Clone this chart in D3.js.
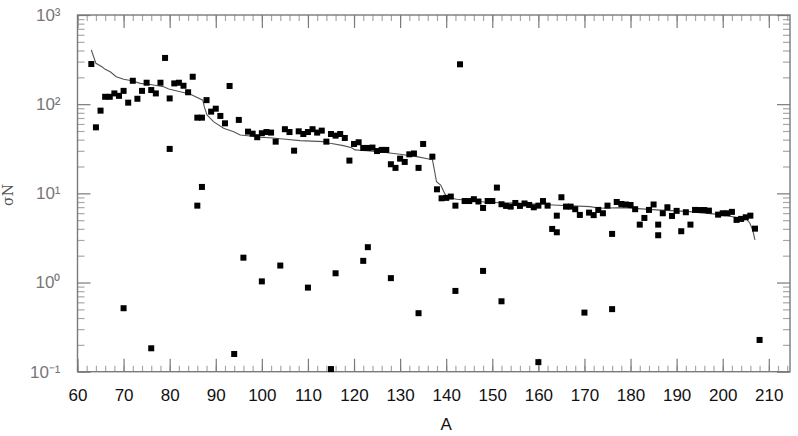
<!DOCTYPE html>
<html><head><meta charset="utf-8">
<script src="https://cdn.jsdelivr.net/npm/d3@7"></script>
<style>
html,body{margin:0;padding:0;background:#fff;}
svg{display:block;}
</style></head>
<body>
<svg id="chart" width="798" height="436"></svg>
<script>
// Measured points: mass number A and sigma*N
const massA = [63,64,65,66,67,68,69,70,70,71,72,73,74,75,76,76,77,78,79,80,80,81,82,83,84,85,86,86,87,87,88,89,90,91,92,93,94,95,96,97,98,99,100,100,101,102,103,104,105,106,107,108,109,110,110,111,112,113,114,115,115,116,116,117,118,119,120,121,122,122,123,123,124,125,126,127,128,128,129,130,131,132,133,134,134,135,137,138,139,140,141,142,142,143,144,145,146,147,148,148,149,150,151,152,152,153,154,155,156,157,158,159,160,160,161,162,163,164,164,165,166,167,168,169,170,171,172,173,174,175,176,176,177,178,179,180,181,182,183,184,185,186,186,187,188,189,190,191,192,193,194,195,196,197,199,200,201,202,203,204,205,206,207,208];
const sigmaN = [282,55,84.6,121,121,132,124,141,0.515,104,183,115,141,174,144,0.183,132,174,330,116,31.5,171,174,161,136,203,70.6,7.28,70.6,11.8,111,82.5,89,73.8,61,160,0.158,66.6,1.9,49.2,46.7,42.6,47.2,1.03,48.7,48,38,1.55,52.4,48.7,30.1,49.6,46.3,48.7,0.877,52.4,48,50.5,38,46.3,0.107,44.4,1.27,46.3,41.8,23.3,35.8,37.4,32.3,1.75,32.3,2.49,32.6,29.8,30.7,30.7,21.2,1.12,19.3,24.5,22.5,27.4,28,19.3,0.453,35.8,25.8,11.1,8.8,8.9,9.2,7.28,0.805,280,8.2,8.2,8.6,8.1,6.86,1.35,8.2,8.2,11.6,7.55,0.616,7.23,7.1,7.8,7.23,7.7,7.41,6.98,7.28,0.128,8.2,7.28,3.99,3.66,5.62,9.04,7.1,7.1,6.64,5.73,0.46,6.08,5.7,6.52,5.98,7.28,3.51,0.503,8.0,7.6,7.5,7.4,6.64,4.46,5.3,6.52,7.5,4.46,3.39,5.98,6.98,5.58,6.36,3.76,6.14,4.46,6.52,6.5,6.5,6.4,5.77,5.98,5.98,6.2,5.04,5.17,5.39,5.62,4.02,0.227];
// Model curve
const curveA = [63,64,65.3,66,67.1,68.4,70,71.8,73.6,75.8,78.7,79.8,82.3,84.5,87.2,87.5,88.1,89.5,91.7,93.9,95.3,97.5,99,101.8,104.6,108.3,113.3,114.8,117.7,119.5,120.2,122.7,126.3,130,133.6,136.5,137,137.3,137.9,138.8,139.5,140.1,142.3,148.8,156,163.2,171.2,173.3,178.4,185.6,192.9,200.1,203,205.2,205.9,206.5,207];
const curveSigma = [405,287,263,246,231,203,190,183,171,166,157,148,138,129,111,93.8,75.7,63.7,53.7,49.2,45.2,44,42.6,42.1,40.7,39,38,36.5,34.3,32.5,30.7,30.1,28.9,27.4,25.8,24.1,24.1,19.9,13.5,12.4,10.4,9.04,8.6,7.94,7.74,7.41,7.1,6.8,6.92,6.52,6.24,5.73,5.35,5.13,4.62,3.89,3.0];
// Tick values
const xMajor = [60,70,80,90,100,110,120,130,140,150,160,170,180,190,200,210];
const xMinor = d3.range(60, 215, 2);
const yMajor = [0.1,1,10,100,1000];
const yMajorLabels = ["10\u207B\u00B9","10\u2070","10\u00B9","10\u00B2","10\u00B3"];

const svg = d3.select("#chart");
const L = 77.5, R = 790, T = 15, B = 371.7;
const x = d3.scaleLinear().domain([60, 214.6]).range([L, R]);
const y = d3.scaleLog().domain([0.1, 1000]).range([B, T]);

const yMinor = [];
[0.1,1,10,100].forEach(d => { for (let k = 2; k <= 9; k++) yMinor.push(d * k); });

const axisColor = "#7a7a7a", minorColor = "#a8a8a8";

function styleAxis(g, color) {
  g.select(".domain").remove();
  g.selectAll(".tick line").attr("stroke", color).attr("stroke-width", 1.2);
}

// bottom
svg.append("g").attr("transform", `translate(0,${B})`)
  .call(d3.axisBottom(x).tickValues(xMinor).tickSize(-6).tickFormat(""))
  .call(g => styleAxis(g, minorColor));
const bx = svg.append("g").attr("transform", `translate(0,${B})`)
  .call(d3.axisBottom(x).tickValues(xMajor).tickSize(-13).tickPadding(17).tickFormat(d3.format("d")))
  .call(g => styleAxis(g, axisColor));
bx.selectAll("text").attr("font-family", "Liberation Sans, Arial, sans-serif").attr("font-size", 17).attr("fill", "#111");
// top
svg.append("g").attr("transform", `translate(0,${T})`)
  .call(d3.axisTop(x).tickValues(xMinor).tickSize(-6).tickFormat(""))
  .call(g => styleAxis(g, minorColor));
svg.append("g").attr("transform", `translate(0,${T})`)
  .call(d3.axisTop(x).tickValues(xMajor).tickSize(-13).tickFormat(""))
  .call(g => styleAxis(g, axisColor));
// left
svg.append("g").attr("transform", `translate(${L},0)`)
  .call(d3.axisLeft(y).tickValues(yMinor).tickSize(-7).tickFormat(""))
  .call(g => styleAxis(g, minorColor));
const ly = svg.append("g").attr("transform", `translate(${L},0)`)
  .call(d3.axisLeft(y).tickValues(yMajor).tickSize(-13).tickPadding(17)
    .tickFormat((d, i) => yMajorLabels[i]))
  .call(g => styleAxis(g, axisColor));
ly.selectAll("text").attr("font-family", "Liberation Sans, Arial, sans-serif").attr("font-size", 17).attr("fill", "#777");
// right
svg.append("g").attr("transform", `translate(${R},0)`)
  .call(d3.axisRight(y).tickValues(yMinor).tickSize(-7).tickFormat(""))
  .call(g => styleAxis(g, minorColor));
svg.append("g").attr("transform", `translate(${R},0)`)
  .call(d3.axisRight(y).tickValues(yMajor).tickSize(-13).tickFormat(""))
  .call(g => styleAxis(g, axisColor));

// frame
svg.append("rect").attr("x", L).attr("y", T).attr("width", R - L).attr("height", B - T)
  .attr("fill", "none").attr("stroke", axisColor).attr("stroke-width", 1.4);

// curve
const line = d3.line().x((d, i) => x(curveA[i])).y((d, i) => y(curveSigma[i]));
svg.append("path").datum(curveA).attr("d", line)
  .attr("fill", "none").attr("stroke", "#555").attr("stroke-width", 1.1);

// points
const s = 6;
svg.append("g").selectAll("rect").data(massA).join("rect")
  .attr("x", (d, i) => x(d) - s / 2)
  .attr("y", (d, i) => y(sigmaN[i]) - s / 2)
  .attr("width", s).attr("height", s).attr("fill", "#000");

// axis titles
svg.append("text").attr("x", x(140)).attr("y", 430).attr("text-anchor", "middle")
  .attr("font-family", "Liberation Sans, Arial, sans-serif").attr("font-size", 17).attr("fill", "#111").text("A");
svg.append("text").attr("transform", "translate(13,195) rotate(-90)").attr("text-anchor", "middle")
  .attr("font-family", "DejaVu Serif, serif").attr("font-size", 14).attr("fill", "#555")
  .text("\u03C3N");
</script>
</body></html>
